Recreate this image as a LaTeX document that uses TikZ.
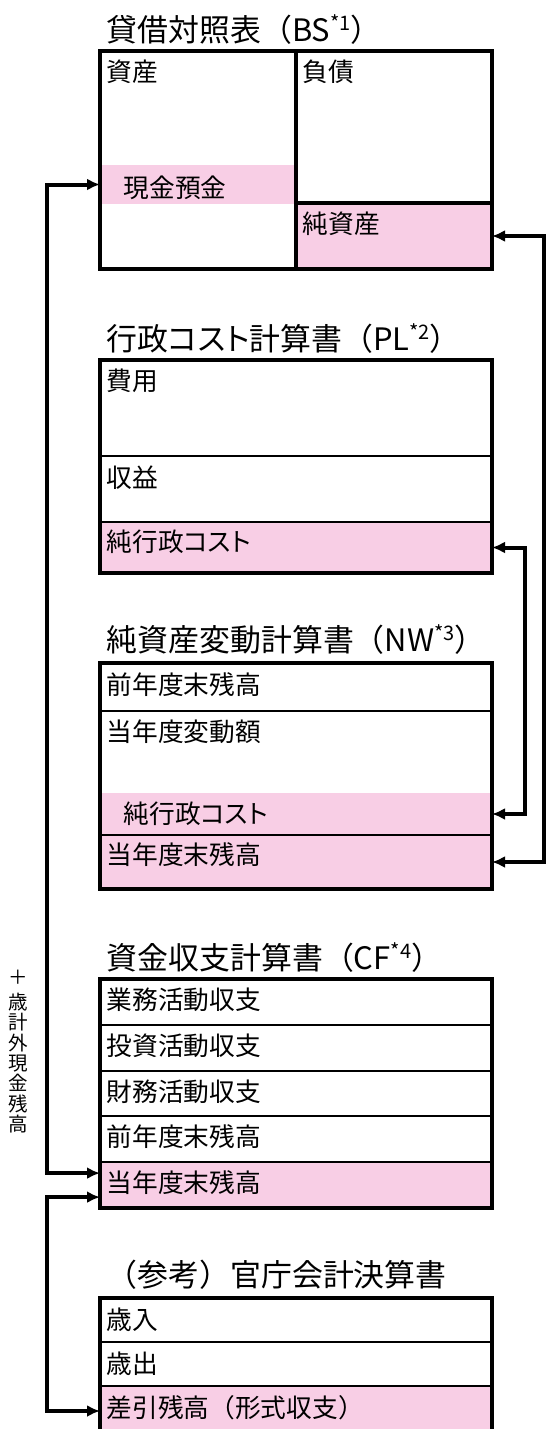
\documentclass[tikz,border=0pt]{standalone}
\usepackage{fontspec}
\setmainfont{Noto Sans CJK JP}
\usepackage{xcolor}
\usetikzlibrary{arrows.meta}
\definecolor{netpink}{RGB}{248,206,229}
\newcommand{\notemark}[1]{\raisebox{11pt}{\fontsize{20}{20}\selectfont #1}}
\newcommand{\kana}[1]{{\addfontfeatures{RawFeature=+palt}#1}}
\tikzset{
	% moldura
	sheet/.style={
		draw,
		line width=3.5pt,
		anchor=north west,
		minimum width=392pt,
		inner sep=0pt,
		outer sep=0pt
	},
	% linha
	cell/.style={
		draw,
		line width=2pt,
		anchor=north west,
		minimum width=392pt,
		inner sep=0pt,
		outer sep=0pt
	},
	netcell/.style={cell, fill=netpink},
	band/.style={fill=netpink, anchor=north west, inner sep=0pt, outer sep=0pt},
	rowtxt/.style={anchor=base west, inner sep=0pt, font=\fontsize{25.7}{30}\selectfont},
	heading/.style={anchor=base west, inner sep=0pt, font=\fontsize{30.9}{36}\selectfont},
	link/.style={line width=4pt, {Latex[length=13pt,width=12pt]}-{Latex[length=13pt,width=12pt]}},
	vtxt/.style={align=center, inner sep=0pt, font=\fontsize{19.5}{20.3}\selectfont}
}

\begin{document}
\begin{tikzpicture}[x=1pt, y=-1pt]
	\useasboundingbox (0,0) rectangle (546,1429);

	% BS
	\node[heading] (bstitle) at (106.5,42) {貸借対照表（BS\notemark{*1}）};
	\node[band, minimum width=196pt, minimum height=39pt] (cash) at (100,165) {};
	\node[cell, line width=3.5pt, minimum width=196pt, minimum height=218pt] (bsasset) at (100,51) {};
	\node[cell, line width=3.5pt, minimum width=196pt, minimum height=152pt] (bsdebt) at (296,51) {};
	\node[netcell, line width=3.5pt, minimum width=196pt, minimum height=66pt] (bsnet) at (296,203) {};
	\node[sheet, minimum height=218pt] (bs) at (100,51) {};
	\node[rowtxt] (asset) at ([shift={(6.5,30.5)}]bsasset.north west) {資産};
	\node[rowtxt] (debt) at ([shift={(6.5,30.5)}]bsdebt.north west) {負債};
	\node[rowtxt] (cashtxt) at ([shift={(23.5,32)}]cash.north west) {現金預金};
	\node[rowtxt] (net) at ([shift={(6.5,30)}]bsnet.north west) {純資産};

	% PL
	\node[heading] (pltitle) at (106.5,350) {行政\kana{コスト}計算書（PL\notemark{*2}）};
	\node[cell, minimum height=96pt] (plcost) at (100,360) {};
	\node[cell, minimum height=66pt] (plrev) at (100,456) {};
	\node[netcell, minimum height=51pt] (plnet) at (100,522) {};
	\node[sheet, minimum height=213pt] (pl) at (100,360) {};
	\node[rowtxt] (cost) at ([shift={(6.5,30)}]plcost.north west) {費用};
	\node[rowtxt] (rev) at ([shift={(6.5,31)}]plrev.north west) {収益};
	\node[rowtxt] (netcost) at ([shift={(6.5,29.5)}]plnet.north west) {純行政\kana{コスト}};

	% NW
	\node[heading] (nwtitle) at (106.5,651) {純資産変動計算書（NW\notemark{*3}）};
	\node[band, minimum width=392pt, minimum height=42pt] (nwcost) at (100,793) {};
	\node[cell, minimum height=48pt] (nwprev) at (100,663) {};
	\node[cell, minimum height=124pt] (nwchg) at (100,711) {};
	\node[netcell, minimum height=54pt] (nwend) at (100,835) {};
	\node[sheet, minimum height=226pt] (nw) at (100,663) {};
	\node[rowtxt] (prev) at ([shift={(6.5,31)}]nwprev.north west) {前年度末残高};
	\node[rowtxt] (chg) at ([shift={(6.5,30.5)}]nwchg.north west) {当年度変動額};
	\node[rowtxt] (costtxt) at ([shift={(23.5,30)}]nwcost.north west) {純行政\kana{コスト}};
	\node[rowtxt] (endtxt) at ([shift={(6.5,29.5)}]nwend.north west) {当年度末残高};

	% CF
	\node[heading] (cftitle) at (106.5,969) {資金収支計算書（CF\notemark{*4}）};
	\foreach \i/\txt in {1/業務活動収支,2/投資活動収支,3/財務活動収支,4/前年度末残高}{
		\node[cell, minimum height=45.8pt] (cf\i) at (100,{979+(\i-1)*45.8}) {};
		\node[rowtxt] (cftxt\i) at ([shift={(6.5,30.5)}]cf\i.north west) {\txt};
	}
	\node[netcell, minimum height=45.8pt] (cf5) at (100,1162.2) {};
	\node[rowtxt] (cftxt5) at ([shift={(6.5,30.5)}]cf5.north west) {当年度末残高};
	\node[sheet, minimum height=229pt] (cf) at (100,979) {};

	% referencia
	\node[heading] (reftitle) at (106.5,1286) {（参考）官庁会計決算書};
	\node[cell, minimum height=44pt] (refin) at (100,1298) {};
	\node[cell, minimum height=44pt] (refout) at (100,1342) {};
	\node[netcell, minimum height=50pt] (refdiff) at (100,1386) {};
	\node[sheet, minimum height=138pt] (ref) at (100,1298) {};
	\node[rowtxt] (intxt) at ([shift={(6.5,31)}]refin.north west) {歳入};
	\node[rowtxt] (outtxt) at ([shift={(6.5,31)}]refout.north west) {歳出};
	\node[rowtxt] (difftxt) at ([shift={(6.5,31)}]refdiff.north west) {差引残高（形式収支）};

	% texto vertical
	\node[vtxt, anchor=north] (extra) at (18,970) {＋\\[4.7pt]歳\\計\\外\\現\\金\\残\\高};

	% setas
	\draw[link] (cash.west) -- ++(-53,0) |- ([yshift=12pt]cf5.west);
	\draw[link] ([yshift=-12pt]cf5.west) -- ++(-53,0) |- (refdiff.west);
	\draw[link] (bsnet.east) -- ++(52,0) |- (nwend.east);
	\draw[link] (plnet.east) -- ++(33,0) |- (nwcost.east);
\end{tikzpicture}
\end{document}
